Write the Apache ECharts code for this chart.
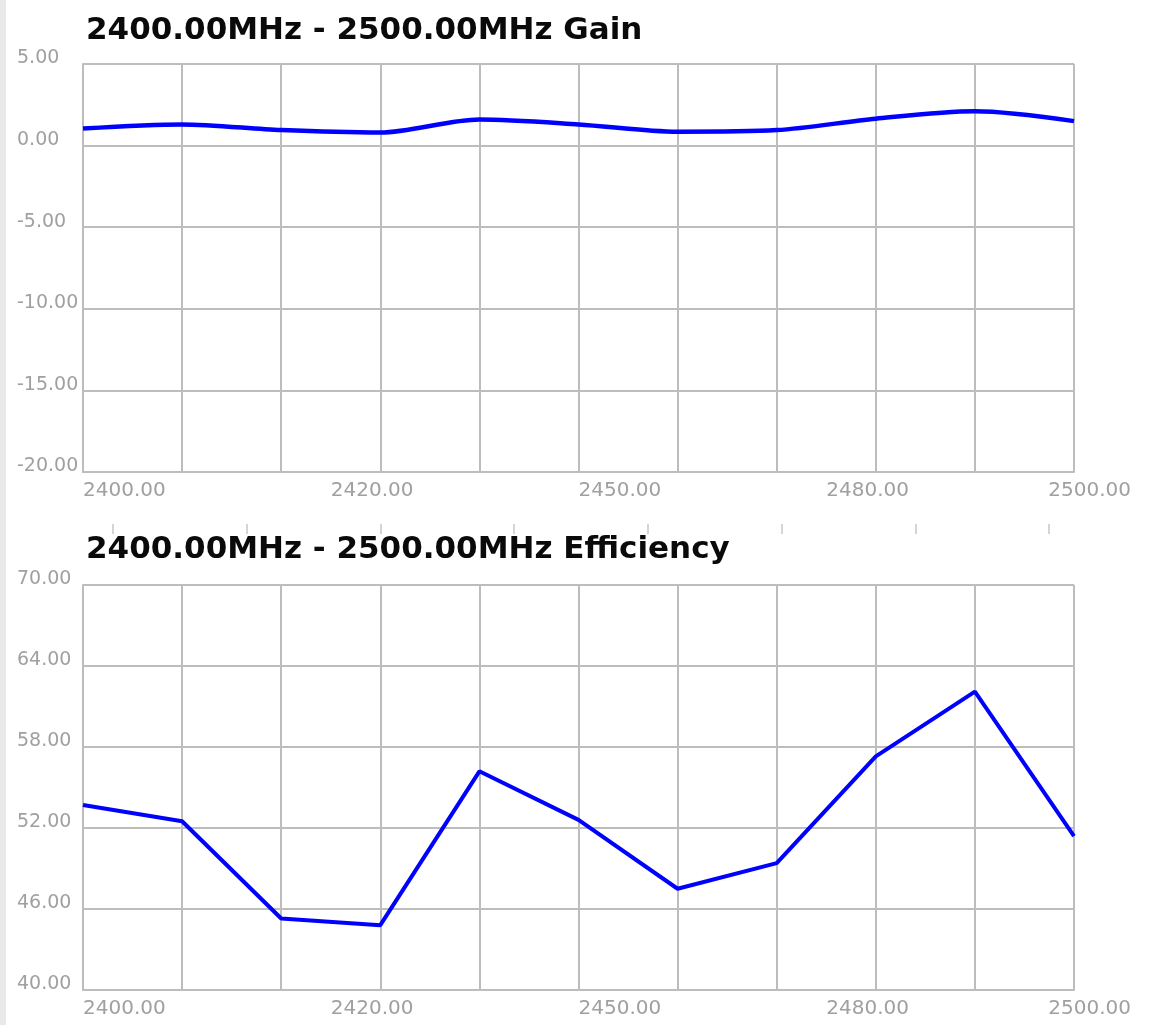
<!DOCTYPE html>
<html>
<head>
<meta charset="utf-8">
<script src="https://cdn.jsdelivr.net/npm/echarts@6/dist/echarts.min.js"></script>
<style>
  html, body { margin: 0; padding: 0; background: #e9e9e9; width: 1150px; height: 1025px; overflow: hidden; }
  #c { position: absolute; left: 6px; top: 0; width: 1144px; height: 1025px; background: #ffffff; }
</style>
</head>
<body>
<div id="c"></div>
<script>
// ---- data ----
const frequencies = [2400, 2410, 2420, 2430, 2440, 2450, 2460, 2470, 2480, 2490, 2500];
const gainValues = [1.05, 1.3, 0.95, 0.8, 1.6, 1.3, 0.85, 0.95, 1.65, 2.1, 1.5];
const efficiencyValues = [53.7, 52.5, 45.3, 44.8, 56.2, 52.6, 47.5, 49.4, 57.3, 62.1, 51.4];
const xTickLabels = ['2400.00', '2420.00', '2450.00', '2480.00', '2500.00'];
const xTickLabelAt = [2400, 2425, 2450, 2475, 2497.4];
const gainTickLabels = ['-20.00', '-15.00', '-10.00', '-5.00', '0.00', '5.00'];
const effTickLabels = ['40.00', '46.00', '52.00', '58.00', '64.00', '70.00'];
const titles = ['2400.00MHz - 2500.00MHz Gain', '2400.00MHz - 2500.00MHz Efficiency'];

const gridColor = '#bdbdbd';
const labelColor = '#a0a0a0';
const font = 'DejaVu Sans';

const chart = echarts.init(document.getElementById('c'), null, { renderer: 'canvas' });

function gridX(gridIndex) {
  return {
    type: 'value', gridIndex: gridIndex, min: 2400, max: 2500, interval: 10,
    axisLine: { show: true, onZero: false, lineStyle: { color: gridColor, width: 2 } },
    axisTick: { show: false }, axisLabel: { show: false },
    splitLine: { show: true, lineStyle: { color: gridColor, width: 2 } }
  };
}
function labelX(gridIndex) {
  return {
    type: 'value', gridIndex: gridIndex, min: 2400, max: 2500, position: 'bottom',
    axisLine: { show: false }, axisTick: { show: false }, splitLine: { show: false },
    axisLabel: {
      show: true, align: 'left', margin: 9, color: labelColor, fontFamily: font, fontSize: 20,
      customValues: xTickLabelAt,
      formatter: (v) => {
        const i = xTickLabelAt.indexOf(v);
        return i >= 0 ? xTickLabels[i] : '';
      }
    }
  };
}
const yLabelStyle = {
  show: true, inside: false, align: 'left', margin: 66, color: labelColor, fontFamily: font, fontSize: 19,
  verticalAlign: 'bottom', lineHeight: 11, showMinLabel: true, showMaxLabel: true
};
const gridCommon = { containLabel: false, outerBoundsMode: 'none' };

const option = {
  animation: false,
  backgroundColor: '#ffffff',
  title: titles.map((t, i) => ({
    text: t, left: 80, top: i === 0 ? 15 : 534, padding: 0,
    textStyle: { fontFamily: font, fontWeight: 'bold', fontSize: 31, color: '#0a0a0a' }
  })),
  grid: [
    Object.assign({ left: 77, top: 64, width: 991, height: 408 }, gridCommon),
    Object.assign({ left: 77, top: 585, width: 991, height: 405 }, gridCommon),
    Object.assign({ left: 107, top: 524, width: 936, height: 10 }, gridCommon)
  ],
  xAxis: [
    gridX(0), labelX(0), gridX(1), labelX(1),
    {
      type: 'value', gridIndex: 2, min: 0, max: 7, interval: 1,
      axisLine: { show: false }, axisLabel: { show: false }, splitLine: { show: false },
      axisTick: { show: true, inside: true, length: 10, lineStyle: { color: '#c8c8c8', width: 1.5 } }
    }
  ],
  yAxis: [
    {
      type: 'value', gridIndex: 0, min: -20, max: 5, interval: 5,
      axisLine: { show: true, lineStyle: { color: gridColor, width: 2 } }, axisTick: { show: false },
      splitLine: { show: true, lineStyle: { color: gridColor, width: 2 } },
      axisLabel: Object.assign({}, yLabelStyle, { formatter: (v, i) => gainTickLabels[i] })
    },
    {
      type: 'value', gridIndex: 1, min: 0, max: 30, interval: 6,
      axisLine: { show: true, lineStyle: { color: gridColor, width: 2 } }, axisTick: { show: false },
      splitLine: { show: true, lineStyle: { color: gridColor, width: 2 } },
      axisLabel: Object.assign({}, yLabelStyle, { formatter: (v, i) => effTickLabels[i] })
    },
    { type: 'value', gridIndex: 1, min: 40, max: 70, show: false, splitLine: { show: false } },
    { type: 'value', gridIndex: 2, min: 0, max: 1, show: false }
  ],
  series: [
    {
      type: 'line', xAxisIndex: 0, yAxisIndex: 0, smooth: 0.3, symbol: 'none',
      lineStyle: { color: '#0000ff', width: 4.5 },
      data: frequencies.map((f, i) => [f, gainValues[i]])
    },
    {
      type: 'line', xAxisIndex: 2, yAxisIndex: 2, smooth: false, symbol: 'none',
      lineStyle: { color: '#0000ff', width: 4 },
      data: frequencies.map((f, i) => [f, efficiencyValues[i]])
    }
  ]
};
chart.setOption(option);
</script>
</body>
</html>
